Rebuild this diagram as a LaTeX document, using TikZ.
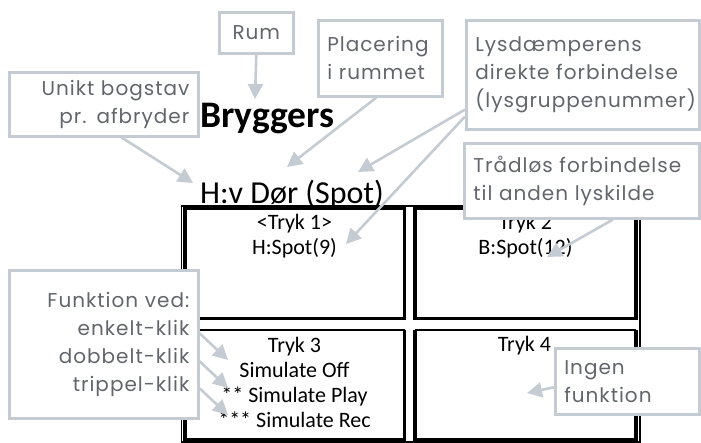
\documentclass[tikz,border=0pt]{standalone}
\usepackage{fontspec}
\usetikzlibrary{arrows.meta}
\newfontfamily\calibfont{Carlito}
\newfontfamily\notefont[LetterSpace=5]{Poppins}
\definecolor{noteline}{RGB}{197,203,210}
\definecolor{notetext}{RGB}{98,102,108}

\begin{document}
\begin{tikzpicture}[x=1pt,y=-1pt,
  note/.style={draw=noteline, line width=2.6pt, fill=white, anchor=north west,
    inner xsep=9pt, inner ysep=0pt, text=notetext,
    font=\notefont\fontsize{20}{28}\selectfont},
  notearrow/.style={draw=noteline, line width=2.6pt, -{Triangle[length=15pt,width=15pt]}},
  thickcell/.style={line width=3.3pt, line join=miter},
  celltext/.style={font=\calibfont\fontsize{22}{25}\selectfont, align=center, anchor=north, inner sep=0pt}]
\useasboundingbox (0,0) rectangle (701,443);

% the switch as a table
\draw[line width=1.3pt] (181.5,206) rectangle (640,442);
\draw[thickcell] (185,208) rectangle (404.5,318.5);
\draw[thickcell] (415,208) rectangle (636,318.5);
\draw[thickcell] (185,330.5) -- (185,440) -- (404.5,440) -- (404.5,330.5);
\draw[thickcell] (415,330.5) -- (415,440) -- (636,440) -- (636,330.5);
\draw[line width=2pt] (185,330.5) -- (404.5,330.5);
\draw[line width=2pt] (415,330.5) -- (636,330.5);

\node[anchor=base west, inner sep=0pt, font=\calibfont\bfseries\fontsize{37.5}{40}\selectfont] (room) at (200,128) {Bryggers};
\node[anchor=base west, inner sep=0pt, font=\calibfont\fontsize{32}{36}\selectfont] (dimmer) at (200,204) {H:v Dør (Spot)};

\node[celltext] (tryk1) at (294.5,214) {<Tryk 1>\\H:Spot(9)};
\node[celltext] (tryk2) at (525.5,214) {Tryk 2\\B:Spot(12)};
\node[celltext] (tryk3) at (294.5,337) {Tryk 3\\Simulate Off\\** Simulate Play\\*** Simulate Rec};
\node[celltext] (tryk4) at (524.5,336) {Tryk 4};

% callouts
\node[note, text width=56pt, align=center, minimum height=41pt] (rum) at (218,11) {Rum};
\node[note, text width=106pt, align=left, minimum height=76pt] (plac) at (317,19) {Placering\\i rummet};
\node[note, text width=171pt, align=right, minimum height=64pt] (unikt) at (8,71) {Unikt bogstav\\pr. afbryder};
\node[note, text width=215pt, align=left, minimum height=109pt] (lysd) at (465,19) {Lysdæmperens\\direkte forbindelse\\(lysgruppenummer)};
\node[note, text width=217pt, align=left, minimum height=75pt] (trad) at (463,142) {Trådløs forbindelse\\til anden lyskilde};
\node[note, text width=171pt, align=right, minimum height=148pt] (funk) at (8,269) {Funktion ved:\\enkelt-klik\\dobbelt-klik\\trippel-klik};
\node[note, text width=126pt, align=left, minimum height=66pt] (ingen) at (554,347) {Ingen\\funktion};

\coordinate (rumtip) at (255,99);
\coordinate (plactip) at (287,167);
\coordinate (unikttip) at (193,183);
\coordinate (lysdtipA) at (358,172);
\coordinate (lysdtipB) at (346,244);
\coordinate (tradtip) at (547,257);
\coordinate (enkelttip) at (228,360);
\coordinate (dobbelttip) at (228,388);
\coordinate (trippeltip) at (228,415);
\coordinate (ingentip) at (527,393);

\draw[notearrow] (rum.south) -- (rumtip);
\draw[notearrow] ([xshift=-4pt]plac.south) -- (plactip);
\draw[notearrow] ([xshift=18pt]unikt.south) -- (unikttip);
\draw[notearrow] ([yshift=21pt]lysd.south west) -- (lysdtipA);
\draw[notearrow] ([yshift=14pt]lysd.south west) -- (lysdtipB);
\draw[notearrow] ([xshift=31pt]trad.south) -- (tradtip);
\draw[notearrow] ([yshift=11pt]funk.east) -- (enkelttip);
\draw[notearrow] ([yshift=-17pt]funk.east) -- (dobbelttip);
\draw[notearrow] ([yshift=-44pt]funk.east) -- (trippeltip);
\draw[notearrow] ([yshift=-6pt]ingen.west) -- (ingentip);
\end{tikzpicture}
\end{document}
